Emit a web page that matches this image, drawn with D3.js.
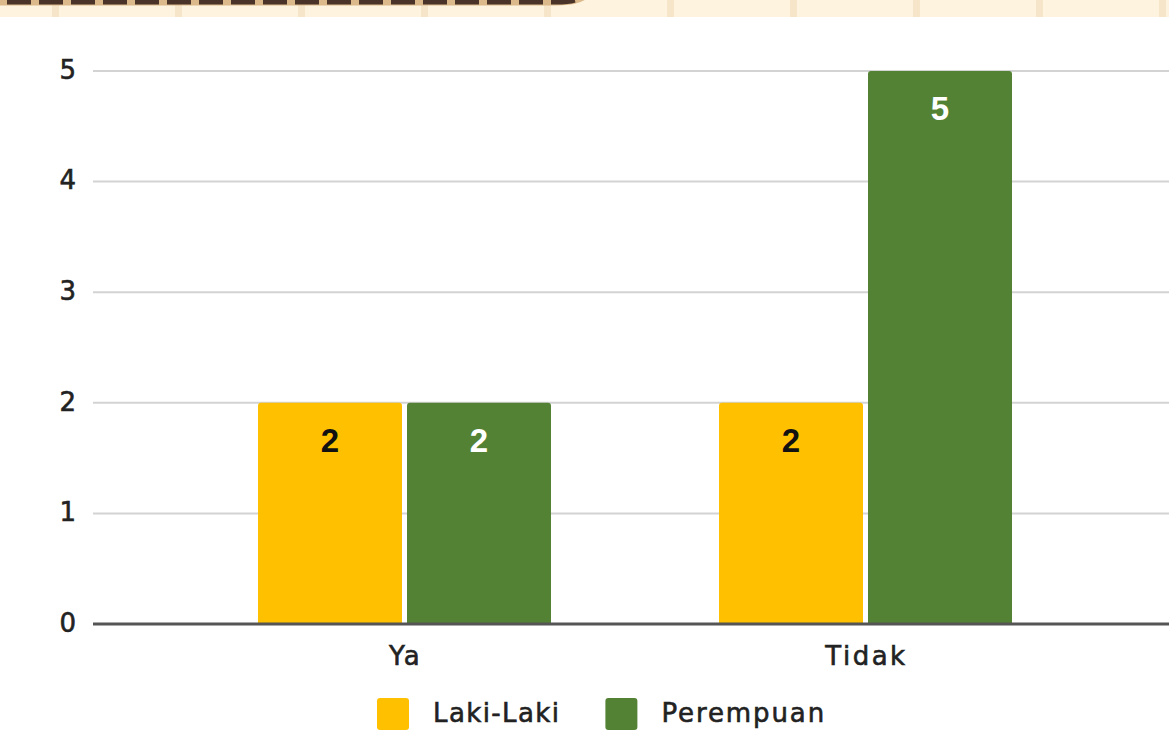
<!DOCTYPE html>
<html>
<head>
<meta charset="utf-8">
<script src="https://cdn.jsdelivr.net/npm/d3@7"></script>
<style>
  html, body { margin: 0; padding: 0; background: #ffffff; }
  svg { display: block; }
  .lbl { paint-order: stroke; stroke: #222; stroke-width: 0.6px; }
</style>
</head>
<body>
<svg id="chart" width="1169" height="733"></svg>
<script>
// Chart data
const categories = ["Ya", "Tidak"];
const seriesNames = ["Laki-Laki", "Perempuan"];
const lakiLaki = [2, 2];
const perempuan = [2, 5];
const yTicks = [0, 1, 2, 3, 4, 5];
const seriesColors = ["#ffc000", "#548235"];
const labelColors = ["#111111", "#ffffff"];

const W = 1169, H = 733;
const svg = d3.select("#chart");

// ---- decorative header strip (page banner edge) ----
const header = svg.append("g");
header.append("rect").attr("x", 0).attr("y", 0).attr("width", W).attr("height", 17).attr("fill", "#fef3df");
header.selectAll("rect.stripe")
  .data(d3.range(52, W, 123))
  .join("rect")
  .attr("class", "stripe")
  .attr("x", d => d).attr("y", 0).attr("width", 7).attr("height", 17)
  .attr("fill", "#f7e5c9");
const edgePath = "M -20 2.2 H 556 C 570 2.2 578 1 586 -6";
header.append("path").attr("d", "M -20 2.5 H 556 C 570 2.5 578 1.5 587 -5")
  .attr("fill", "none").attr("stroke", "#dcb98a").attr("stroke-width", 6);
header.append("path").attr("d", edgePath)
  .attr("fill", "none").attr("stroke", "#4a3329").attr("stroke-width", 4.4)
  .attr("stroke-dasharray", "24 8").attr("stroke-dashoffset", 5);

// ---- scales ----
const y = d3.scaleLinear().domain([0, 5]).range([624, 71]);
const x0 = d3.scaleBand().domain(categories).range([90, 1180]).padding(0.3644);
const x1 = d3.scaleBand().domain(seriesNames).range([0, x0.bandwidth()]).paddingInner(0.0336);

const gridX0 = 93, gridX1 = W + 10;

// gridlines
svg.append("g").selectAll("line")
  .data(yTicks.filter(t => t !== 0))
  .join("line")
  .attr("x1", gridX0).attr("x2", gridX1)
  .attr("y1", d => y(d)).attr("y2", d => y(d))
  .attr("stroke", "#d3d3d3").attr("stroke-width", 2);

// y tick labels
svg.append("g").selectAll("text")
  .data(yTicks)
  .join("text")
  .attr("class", "lbl")
  .attr("x", 76).attr("y", d => y(d) - 1.5)
  .attr("dy", "0.36em")
  .attr("text-anchor", "end")
  .attr("font-family", "DejaVu Sans, sans-serif")
  .attr("font-size", 26)
  .attr("fill", "#222")
  .text(d => d);

// bars
const rows = categories.map((c, i) => ({ cat: c, values: [lakiLaki[i], perempuan[i]] }));

function topRounded(x, yTop, w, yBase, r) {
  return `M ${x} ${yBase} V ${yTop + r} Q ${x} ${yTop} ${x + r} ${yTop} H ${x + w - r} Q ${x + w} ${yTop} ${x + w} ${yTop + r} V ${yBase} Z`;
}

const groups = svg.append("g").selectAll("g")
  .data(rows)
  .join("g")
  .attr("transform", d => `translate(${x0(d.cat)},0)`);

groups.selectAll("path")
  .data(d => d.values.map((v, j) => ({ name: seriesNames[j], v, j })))
  .join("path")
  .attr("d", d => topRounded(x1(d.name), y(d.v), x1.bandwidth(), y(0), 3))
  .attr("fill", d => seriesColors[d.j]);

groups.selectAll("text")
  .data(d => d.values.map((v, j) => ({ name: seriesNames[j], v, j })))
  .join("text")
  .attr("x", d => x1(d.name) + x1.bandwidth() / 2)
  .attr("y", d => y(d.v) + 37)
  .attr("dy", "0.36em")
  .attr("text-anchor", "middle")
  .attr("font-family", "Liberation Sans, Arial, sans-serif")
  .attr("font-weight", "bold")
  .attr("font-size", 33)
  .attr("fill", d => labelColors[d.j])
  .text(d => d.v);

// baseline
svg.append("line")
  .attr("x1", gridX0).attr("x2", gridX1)
  .attr("y1", y(0)).attr("y2", y(0))
  .attr("stroke", "#555").attr("stroke-width", 3);

// x category labels
svg.append("g").selectAll("text")
  .data(categories)
  .join("text")
  .attr("class", "lbl")
  .attr("x", d => x0(d) + x0.bandwidth() / 2 + 1)
  .attr("y", 665)
  .attr("text-anchor", "middle")
  .attr("font-family", "DejaVu Sans, sans-serif")
  .attr("font-size", 26)
  .attr("letter-spacing", "2.5px")
  .attr("fill", "#222")
  .text(d => d);

// legend
const legend = svg.append("g");
let lx = 377;
seriesNames.forEach((name, i) => {
  legend.append("rect")
    .attr("x", lx).attr("y", 698).attr("width", 32).attr("height", 32).attr("rx", 3)
    .attr("fill", seriesColors[i]);
  const t = legend.append("text")
    .attr("class", "lbl")
    .attr("x", lx + 56).attr("y", 722)
    .attr("font-family", "DejaVu Sans, sans-serif")
    .attr("font-size", 26)
    .attr("letter-spacing", i === 0 ? "1.4px" : "1.9px")
    .attr("fill", "#222")
    .text(name);
  lx = lx + 56 + t.node().getComputedTextLength() + 45;
});
</script>
</body>
</html>
